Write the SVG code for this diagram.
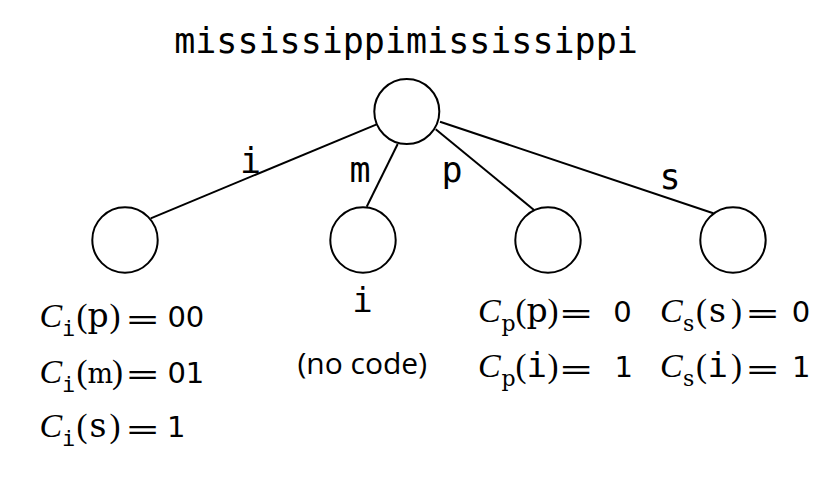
<svg xmlns="http://www.w3.org/2000/svg" width="838" height="478" viewBox="0 0 838 478">
<style>
.node circle{fill:#fff;stroke:#000;stroke-width:2}
#connectors line{stroke:#000;stroke-width:2}
.mono{font-family:"DejaVu Sans Mono",monospace;font-size:35px;fill:#000}
.lbl{text-anchor:middle}
.C{font-family:"Liberation Serif",serif;font-style:italic;font-size:34px}
.rm{font-family:"Liberation Serif",serif;font-size:33px}
.tt{font-family:"DejaVu Serif",serif;font-size:33px}
.ti{font-family:"DejaVu Sans Mono",monospace;font-size:34px}
.sub{font-family:"DejaVu Serif",serif;font-size:22px}
.subi{font-family:"DejaVu Sans Mono",monospace;font-size:22px}
.eq{font-family:"DejaVu Sans",sans-serif;font-size:28px}
.dg{font-family:"DejaVu Sans",sans-serif;font-size:29px}
.sf{font-family:"Open Sans",sans-serif;font-size:30px;text-anchor:middle}
</style>
<text class="mono lbl" x="406" y="53">mississippimississippi</text>
<g id="connectors">
<line x1="376.7" y1="124.3" x2="150.7" y2="218.3"/>
<line x1="397.7" y1="144" x2="366.7" y2="206.7"/>
<line x1="435.7" y1="129.3" x2="534" y2="210"/>
<line x1="440" y1="121.7" x2="713.3" y2="213.3"/>
<text class="mono lbl" x="250.5" y="172.7">i</text>
<text class="mono lbl" x="360" y="181.7">m</text>
<text class="mono lbl" x="452" y="181.7">p</text>
<text class="mono lbl" x="670" y="188.5">s</text>
</g>
<g id="root" class="node"><circle cx="406.8" cy="111.5" r="32.5"/></g>
<g id="node-i" class="node">
<circle cx="125" cy="240" r="32.7"/>
<g id="code-i">
<text><tspan class="C" x="39.5" y="327">C</tspan><tspan class="subi" x="62" y="336">i</tspan><tspan class="rm" x="76.5" y="327">(</tspan><tspan class="tt" x="87.5">p</tspan><tspan class="rm" x="109.5">)</tspan><tspan class="dg" x="167.4">00</tspan></text>
<text class="eq" transform="translate(125,328.5) scale(1.5,1)">=</text>
<text><tspan class="C" x="39.5" y="382.5">C</tspan><tspan class="subi" x="62" y="391.5">i</tspan><tspan class="rm" x="76.5" y="382.5">(</tspan><tspan class="tt" x="87.5" style="font-size:27px">m</tspan><tspan class="rm" x="112">)</tspan><tspan class="dg" x="167.4">01</tspan></text>
<text class="eq" transform="translate(125,384) scale(1.5,1)">=</text>
<text><tspan class="C" x="39.5" y="437">C</tspan><tspan class="subi" x="62" y="446">i</tspan><tspan class="rm" x="76.5" y="437">(</tspan><tspan class="tt" x="89.5">s</tspan><tspan class="rm" x="109.5">)</tspan><tspan class="dg" x="167.1">1</tspan></text>
<text class="eq" transform="translate(125,438.5) scale(1.5,1)">=</text>
</g>
</g>
<g id="node-m" class="node">
<circle cx="363" cy="240" r="32.7"/>
<text class="ti lbl" x="362.5" y="312">i</text>
<text class="sf" x="362.3" y="374.3">(no code)</text>
</g>
<g id="node-p" class="node">
<circle cx="548" cy="240" r="32.7"/>
<g id="code-p">
<text><tspan class="C" x="478" y="321.5">C</tspan><tspan class="sub" x="501.5" y="330.5">p</tspan><tspan class="rm" x="515.6" y="321.5">(</tspan><tspan class="tt" x="526.6">p</tspan><tspan class="rm" x="547.5">)</tspan><tspan class="dg" x="613.3">0</tspan></text>
<text class="eq" transform="translate(558.5,323) scale(1.5,1)">=</text>
<text><tspan class="C" x="478" y="377">C</tspan><tspan class="sub" x="501.5" y="386">p</tspan><tspan class="rm" x="515.6" y="377">(</tspan><tspan class="ti" x="526.6">i</tspan><tspan class="rm" x="547.5">)</tspan><tspan class="dg" x="614.6">1</tspan></text>
<text class="eq" transform="translate(558.5,378.5) scale(1.5,1)">=</text>
</g>
</g>
<g id="node-s" class="node">
<circle cx="733" cy="240" r="32.7"/>
<g id="code-s">
<text><tspan class="C" x="660" y="321.5">C</tspan><tspan class="sub" x="683" y="330.5">s</tspan><tspan class="rm" x="696" y="321.5">(</tspan><tspan class="tt" x="709">s</tspan><tspan class="rm" x="731">)</tspan><tspan class="dg" x="791.7">0</tspan></text>
<text class="eq" transform="translate(745,323) scale(1.5,1)">=</text>
<text><tspan class="C" x="660" y="377">C</tspan><tspan class="sub" x="683" y="386">s</tspan><tspan class="rm" x="696" y="377">(</tspan><tspan class="ti" x="707.5">i</tspan><tspan class="rm" x="731">)</tspan><tspan class="dg" x="791.9">1</tspan></text>
<text class="eq" transform="translate(745,378.5) scale(1.5,1)">=</text>
</g>
</g>
</svg>
